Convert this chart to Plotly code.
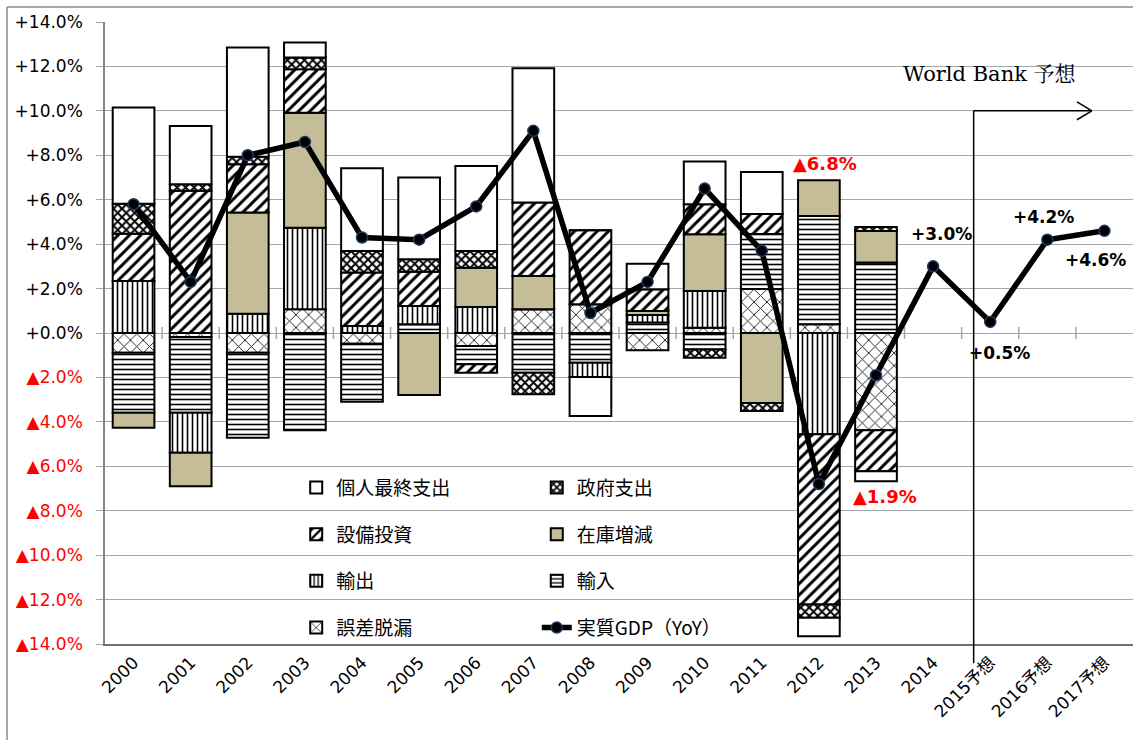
import plotly.graph_objects as go

years = ["2000", "2001", "2002", "2003", "2004", "2005", "2006", "2007", "2008",
         "2009", "2010", "2011", "2012", "2013", "2014", "2015予想", "2016予想", "2017予想"]

# contributions to growth (percentage points), 2000-2013
pce   = [4.33, 2.62, 4.92, 0.68, 3.73, 3.68, 3.83, 6.05, -1.76, 1.15, 1.92, 1.89, -0.83, -0.45, None, None, None, None]
gov   = [1.35, 0.30, 0.33, 0.53, 0.97, 0.56, 0.75, -0.97, 0.0, 0.0, -0.37, -0.36, -0.60, 0.18, None, None, None, None]
capex = [2.13, 6.40, 2.18, 1.95, 2.40, 1.54, -0.38, 3.30, 3.34, 0.98, 1.35, 0.90, -7.66, -1.84, None, None, None, None]
stock = [-0.68, -1.51, 4.55, 5.18, 0.0, -2.79, 1.77, 1.50, 0.0, 0.18, 2.56, -3.15, 1.61, 1.42, None, None, None, None]
exports = [2.34, -1.80, 0.87, 3.67, 0.32, 0.83, 1.17, 0.0, -0.64, 0.34, 1.65, 0.0, -4.56, 0.0, None, None, None, None]
imports = [-2.70, -3.41, -3.82, -4.38, -2.61, 0.39, -0.82, -1.79, -1.34, 0.47, -0.74, 2.48, 4.88, 3.17, None, None, None, None]
errors  = [-0.89, -0.18, -0.89, 1.07, -0.48, 0.0, -0.59, 1.07, 1.29, -0.78, 0.24, 1.98, 0.39, -4.38, None, None, None, None]
gdp = [5.8, 2.3, 8.0, 8.6, 4.3, 4.2, 5.7, 9.1, 0.9, 2.3, 6.5, 3.7, -6.8, -1.9, 3.0, 0.5, 4.2, 4.6]

ytick_vals = [14, 12, 10, 8, 6, 4, 2, 0, -2, -4, -6, -8, -10, -12, -14]
ytick_text = ["+14.0%", "+12.0%", "+10.0%", "+8.0%", "+6.0%", "+4.0%", "+2.0%", "+0.0%",
              "▲2.0%", "▲4.0%", "▲6.0%", "▲8.0%", "▲10.0%", "▲12.0%", "▲14.0%"]

CJK = "Noto Sans CJK JP"
TAN = "#C4BD97"

fig = go.Figure()


def add_bar(name, vals, legend, rank, color="white", pattern=None):
    marker = dict(color=color, line=dict(color="black", width=2))
    if pattern is not None:
        pattern = dict(pattern, fgopacity=1, fillmode="replace")
        marker["pattern"] = pattern
    fig.add_trace(go.Bar(
        x=years, y=vals, name=name, marker=marker, legend=legend,
        legendrank=rank, legendgroup=name, hoverinfo="skip"))


# stacking order (first = closest to zero)
add_bar("誤差脱漏", errors, "legend", 4,
        pattern=dict(shape="x", fgcolor="#202020", bgcolor="white", size=9, solidity=0.2))
add_bar("輸入", imports, "legend2", 3,
        pattern=dict(shape="-", fgcolor="black", bgcolor="white", size=5, solidity=0.32))
add_bar("輸出", exports, "legend", 3,
        pattern=dict(shape="|", fgcolor="black", bgcolor="white", size=5, solidity=0.32))
add_bar("在庫増減", stock, "legend2", 2, color=TAN)
add_bar("設備投資", capex, "legend", 2,
        pattern=dict(shape="/", fgcolor="black", bgcolor="white", size=8, solidity=0.36))
add_bar("政府支出", gov, "legend2", 1,
        pattern=dict(shape="x", fgcolor="black", bgcolor="white", size=6, solidity=0.55))
add_bar("個人最終支出", pce, "legend", 1, color="white")

fig.add_trace(go.Scatter(
    x=years, y=gdp, name="実質GDP（YoY）", mode="lines+markers",
    line=dict(color="black", width=5.5),
    marker=dict(size=11, color="black", line=dict(color="#1F3864", width=1.5)),
    legend="legend2", legendrank=4, legendgroup="gdp", cliponaxis=False, hoverinfo="skip"))

# cross tick marks on the zero line at category boundaries
shapes = []
for i in range(len(years) - 1):
    shapes.append(dict(type="line", xref="x", yref="y", x0=i + 0.5, x1=i + 0.5,
                       y0=-0.27, y1=0.27, line=dict(color="#A6A6A6", width=1.5), layer="below"))

# forecast arrow (World Bank)
ncat = len(years)
ax_x = (14.71 + 0.5) / ncat
tip_x = (16.78 + 0.5) / ncat
yr = lambda v: (v + 14) / 28.0
shapes.append(dict(type="line", xref="paper", yref="paper", x0=ax_x, x1=ax_x,
                   y0=-0.031, y1=yr(10), line=dict(color="black", width=1.5)))
shapes.append(dict(type="line", xref="paper", yref="paper", x0=ax_x, x1=tip_x,
                   y0=yr(10), y1=yr(10), line=dict(color="black", width=1.5)))
shapes.append(dict(type="line", xref="paper", yref="paper", x0=tip_x - 0.0145, x1=tip_x,
                   y0=yr(10.4), y1=yr(10), line=dict(color="black", width=1.5)))
shapes.append(dict(type="line", xref="paper", yref="paper", x0=tip_x - 0.0145, x1=tip_x,
                   y0=yr(9.6), y1=yr(10), line=dict(color="black", width=1.5)))
# outer chart border
shapes.append(dict(type="line", xref="paper", yref="paper", x0=-0.0953, x1=-0.0953,
                   y0=-0.2, y1=1.0241, line=dict(color="#8C8C8C", width=1.5)))
shapes.append(dict(type="line", xref="paper", yref="paper", x0=-0.0953, x1=1.01,
                   y0=1.0241, y1=1.0241, line=dict(color="#8C8C8C", width=1.5)))

LBL = "DejaVu Sans"
annotations = [
    dict(x=12, y=7.65, text="▲6.8%", font=dict(family=LBL, size=18, color="#FF0000", weight="bold"), xshift=6),
    dict(x=13, y=-7.35, text="▲1.9%", font=dict(family=LBL, size=18, color="#FF0000", weight="bold"), xshift=9),
    dict(x=14, y=4.46, text="+3.0%", font=dict(family=LBL, size=17, color="black", weight="bold"), xshift=8),
    dict(x=15, y=-0.9, text="+0.5%", font=dict(family=LBL, size=17, color="black", weight="bold"), xshift=9),
    dict(x=16, y=5.2, text="+4.2%", font=dict(family=LBL, size=17, color="black", weight="bold"), xshift=-4),
    dict(x=17, y=3.3, text="+4.6%", font=dict(family=LBL, size=17, color="black", weight="bold"), xshift=-9),
    dict(x=15, y=11.67, text="World Bank 予想", font=dict(family="DejaVu Serif, Noto Serif CJK JP, serif", size=21, color="black")),
]
for a in annotations:
    a.update(xref="x", yref="y", showarrow=False)

legend_common = dict(
    orientation="v", bgcolor="rgba(0,0,0,0)", borderwidth=0,
    font=dict(family=CJK, size=19, color="black"),
    traceorder="grouped", tracegroupgap=19, xanchor="left", yanchor="top",
    itemclick=False, itemdoubleclick=False,
)

fig.update_layout(
    width=1133, height=740,
    margin=dict(l=105, r=0, t=22, b=96),
    paper_bgcolor="white", plot_bgcolor="white",
    barmode="relative", bargap=0.27,
    font=dict(family=f"DejaVu Sans, {CJK}", size=16, color="black"),
    xaxis=dict(type="category", categoryorder="array", categoryarray=years,
               range=[-0.5, ncat - 0.5], tickangle=-45, showgrid=False,
               ticks="", showline=True, linecolor="#707070", linewidth=2,
               tickfont=dict(family=f"DejaVu Sans, {CJK}", size=17, color="black")),
    yaxis=dict(range=[-14, 14], tickmode="array", tickvals=ytick_vals,
               ticktext=[t if t.startswith("+") else f'<span style="color:#FF0000">{t}</span>'
                         for t in ytick_text],
               showgrid=True, gridcolor="#A6A6A6", gridwidth=1, zeroline=False,
               showline=True, linecolor="#868686", linewidth=1.5,
               ticks="outside", ticklen=7, tickcolor="#A6A6A6", ticklabelstandoff=10,
               tickfont=dict(family=f"DejaVu Sans, {CJK}", size=17, color="black")),
    legend=dict(legend_common, x=0.186, y=0.282),
    legend2=dict(legend_common, x=0.42, y=0.282),
    shapes=shapes,
    annotations=annotations,
    showlegend=True,
)

fig.write_html("out.html", config={"displayModeBar": False},
               post_script="document.body.style.margin='0px';document.body.style.overflow='hidden';")
